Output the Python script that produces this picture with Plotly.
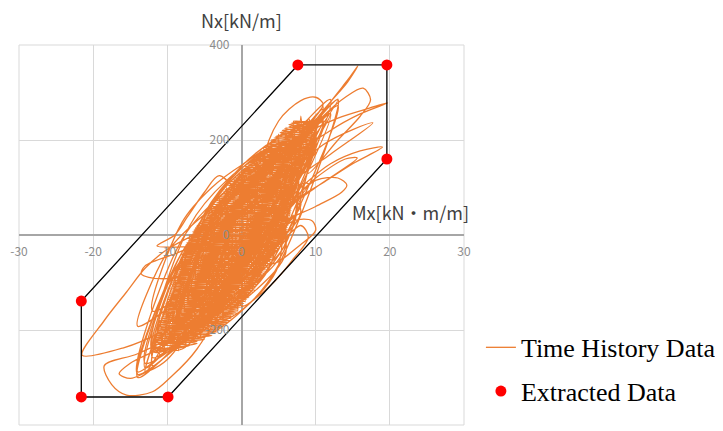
import plotly.graph_objects as go

# ---- Time history data (Mx [kN·m/m], Nx [kN/m]) ----
# outer hysteresis loops and excursions
loops_mx = [
    6, 3, 0, -3, -6, -3, 0, 3,
    11, 6, 1, -4, -9, -4, 1, 6,
    0, -3, -5, -7.3, -9, -11.4, -8, -5,
    7, 3, -1, -5, -9, -5, -1, 3,
    12, 6, 0, -6, -12, -6, 0, 6,
    6, 9, 12, 14.5, 15.7, 14.3, 11, 7, 3,
    8, 5, 2, -1, -4, -1, 2, 5,
    8, 3, -2, -7, -12, -7, -2, 3,
    -6, -11, -16, -21.5, -18.5, -15.5, -13, -10,
    5, 3, 1, -1, -3, -1, 1, 3,
    7, 3, -1, -5, -9, -5, -1, 3,
    7, 11, 14, 16.4, 17.4, 16, 13, 9,
    11, 7, 3, -1, -5, -1, 3, 7,
    7, 2, -3, -8, -13, -8, -3, 2,
    -5, -9, -13, -13.5, -11, -7,
    8, 4, 0, -4, -8, -4, 0, 4,
    13, 7, 1, -5, -11, -5, 1, 7,
    8, 12, 16, 19.7, 17, 13, 9, 5,
    5, 2, -1, -4, -7, -4, -1, 2,
    12, 7, 2, -3, -8, -3, 2, 7,
    -8, -14, -18.5, -17.5, -15.5, -12, -9.6, -6,
    10, 4, -2, -8, -14, -8, -2, 4,
    4, 2, 0, -2, -4, -2, 0, 2,
    7, 11, 15, 19, 16, 12, 8, 4,
    12, 8, 4, 0, -4, 0, 4, 8,
    4, 0, -4, -8, -12, -8, -4, 0,
    0, 4, 7, 9, 8, 4,
    6, 3, 0, -3, -6, -3, 0, 3,
    11, 5, -1, -7, -13, -7, -1, 5,
    7, 12, 17.7, 15, 11, 6,
    10, 6, 2, -2, -6, -2, 2, 6,
    3, 0, -3, -6, -9, -6, -3, 0,
    -9, -15, -16.5, -15, -13, -10,
    11, 6, 1, -4, -9, -4, 1, 6,
    9, 6, 3, 0, -3, 0, 3, 6,
    5, 10, 15.6, 14, 10, 5,
    8, 3, -2, -7, -12, -7, -2, 3,
    6, 3, 0, -3, -6, -3, 0, 3,
    4, 8, 10, 9.5, 7, 3,
    11, 6, 1, -4, -9, -4, 1, 6,
    3, 1, -1, -3, -5, -3, -1, 1,
    5, 10, 13.5, 14.2, 13, 10, 6,
    3, -1, -5, -9, -13, -9, -5, -1,
    10, 6, 2, -2, -6, -2, 2, 6,
    3, 5, 8, 10, 11, 9, 6,
    10, 5, 0, -5, -10, -5, 0, 5,
    10, 4, -2, -8, -14, -8, -2, 4,
    9, 5, 1, -3, -7, -3, 1, 5,
    13, 8, 3, -2, -7, -2, 3, 8,
    3, 0, -3, -6, -9, -6, -3, 0,
    10, 5, 0, -5, -10, -5, 0, 5,
    4, 0, -4, -8, -12, -8, -4, 0,
    2, -2, -6, -10, -14, -10, -6, -2,
    13, 9, 5, 1, -3, 1, 5, 9,
    2, -2, -6, -10, -14, -10, -6, -2,
    6, 4, 2, 0, -2, 0, 2, 4,
    2, 0, -2, -4, -6, -4, -2, 0,
    7, 4, 1, -2, -5, -2, 1, 4,
    7, 3, -1, -5, -9, -5, -1, 3,
    10, 5, 0, -5, -10, -5, 0, 5,
]
loops_nx = [
    130, 96, 60, 6, -130, -96, -60, -6,
    240, 179, 120, 29, -220, -159, -100, -9,
    80, 125, 90, 38, 0, -23, -25, -20,
    178, 164, 120, 36, -198, -184, -140, -56,
    285, 197, 125, 17, -275, -187, -115, 17,
    130, 210, 280, 330, 356, 322, 262, 180, 90,
    166, 145, 110, 49, -126, -105, -70, -9,
    180, 125, 70, -15, -240, -185, -130, -45,
    -150, -205, -238, -253, -180, -120, -70, -30,
    94, 100, 80, 36, -94, -100, -80, -36,
    165, 105, 55, -15, -195, -135, -85, -15,
    180, 250, 290, 309, 285, 250, 200, 130,
    238, 189, 140, 61, -158, -109, -60, 19,
    170, 124, 60, -36, -270, -224, -160, -64,
    -20, -40, -65, -82, -92, -80,
    170, 179, 140, 59, -170, -179, -140, -59,
    272, 183, 100, -9, -252, -163, -80, 29,
    170, 220, 255, 278, 266, 246, 215, 150,
    104, 124, 100, 40, -144, -164, -140, -80,
    255, 178, 105, 8, -205, -128, -55, 42,
    -200, -250, -275, -315, -337, -330, -300, -240,
    223, 159, 95, -9, -293, -229, -165, -61,
    85, 67, 45, 7, -95, -77, -55, -17,
    70, 110, 150, 185, 177, 150, 100, 40,
    256, 205, 150, 69, -136, -85, -30, 51,
    118, 79, 30, -49, -258, -219, -170, -91,
    -150, -105, -50, -5, 20, -30,
    150, 149, 120, 59, -130, -129, -100, -39,
    270, 131, 50, -49, -290, -151, -70, 29,
    110, 170, 236, 222, 190, 120,
    175, 185, 145, 65, -145, -155, -115, -35,
    95, 68, 35, -22, -185, -158, -125, -68,
    -220, -270, -292, -302, -290, -262,
    245, 187, 125, 27, -235, -177, -115, -17,
    186, 158, 120, 62, -86, -58, -20, 38,
    40, 100, 162, 160, 120, 50,
    195, 169, 115, 19, -245, -219, -165, -69,
    137, 80, 35, -22, -147, -90, -45, 12,
    -60, -20, 10, 30, 30, -20,
    265, 180, 115, 20, -235, -150, -85, 10,
    70, 95, 80, 35, -110, -135, -120, -75,
    20, 60, 90, 105, 120, 115, 70,
    100, 47, 0, -73, -280, -227, -180, -107,
    210, 200, 160, 80, -150, -140, -100, -20,
    150, 240, 283, 290, 275, 230, 170,
    210, 117, 50, -33, -210, -117, -50, 33,
    220, 144, 70, -36, -300, -224, -150, -44,
    170, 183, 145, 63, -170, -183, -145, -63,
    285, 203, 135, 43, -175, -93, -25, 67,
    85, 41, 5, -49, -195, -151, -115, -61,
    200, 193, 140, 43, -220, -213, -160, -63,
    180, 147, 100, 27, -160, -127, -80, -7,
    112, 76, 30, -36, -192, -156, -110, -44,
    286, 228, 170, 92, -86, -28, 30, 108,
    68, 22, -30, -106, -288, -242, -190, -114,
    130, 130, 110, 70, -50, -50, -30, 10,
    60, 51, 30, -9, -120, -111, -90, -51,
    150, 99, 60, 9, -110, -59, -20, 31,
    165, 140, 95, 20, -175, -150, -105, -30,
    235, 205, 145, 45, -205, -175, -115, -15,
]

# dense core of the response (many small back-and-forth cycles)
core1_mx = [-12, -7, -11.9, -5, -11.6, -3, -11.3, -1.8, -10.9, -1, -10.5, -0.1,
            -10.2, 0.7, -9.8, 1.5, -9.6, 2.1, -9.3, 2.7, -9, 3.3, -8.6, 3.9,
            -8.2, 4.5, -7.8, 5.1, -7.4, 5.7, -7, 6.1, -6.2, 6.3, -5.4, 6.5,
            -4.6, 6.7, -3.8, 6.9, -3, 7.1, -2.2, 7.3, -1.4, 7.5, -0.5, 7.9,
            0.5, 8.3, 1.5, 8.7, 2.5, 9.1, 3.5, 9.5, 4.6, 9.7, 5.8, 9.9, 7]
core1_nx = [-240, -232, -224, -216, -208, -200, -192, -184, -176, -168, -160, -152,
            -144, -136, -128, -120, -112, -104, -96, -88, -80, -72, -64, -56,
            -48, -40, -32, -24, -16, -8, 0, 8, 16, 24, 32, 40,
            48, 56, 64, 72, 80, 88, 96, 104, 112, 120, 128, 136,
            144, 152, 160, 168, 176, 184, 192, 200, 208, 216, 224, 232, 240]
core2_mx = [10, 6.4, 9.8, 5.2, 9.6, 4, 9.3, 3, 8.9, 2, 8.5, 1, 8.1, 0, 7.6, -0.9,
            7.4, -1.8, 7.2, -2.6, 7, -3.4, 6.8, -4.2, 6.6, -5, 6.4, -5.8, 6.2, -6.6,
            5.9, -7.2, 5.4, -7.6, 4.8, -8, 4.2, -8.4, 3.6, -8.8, 3, -9.1, 2.4, -9.4,
            1.8, -9.7, 1, -10, 0.2, -10.3, -0.7, -10.7, -1.5, -11.1, -2.5, -11.4,
            -4, -11.7, -6, -11.8]
core2_nx = [236, 228, 220, 212, 204, 196, 188, 180, 172, 164, 156, 148, 140, 132, 124, 116,
            108, 100, 92, 84, 76, 68, 60, 52, 44, 36, 28, 20, 12, 4,
            -4, -12, -20, -28, -36, -44, -52, -60, -68, -76, -84, -92, -100, -108,
            -116, -124, -132, -140, -148, -156, -164, -172, -180, -188, -196, -204,
            -212, -220, -228, -236]
core3_mx = [-10, -3.5, -9.4, -2.2, -8.8, -1, -8.3, 0.3, -8.1, 1, -7.5, 2, -7, 2.8,
            -6.3, 3.9, -5.7, 4.6, -4.7, 4.9, -3.5, 5.2, -2.3, 5.5, -1.1, 5.8, 0, 6.1,
            1.2, 6.8, 3, 7.4, 4, 8]
core3_nx = [-200, -188, -176, -164, -152, -140, -128, -116, -104, -92, -80, -68, -56, -44,
            -32, -20, -8, 4, 16, 28, 40, 52, 64, 76, 88, 100, 112, 124,
            136, 148, 160, 172, 184, 196]
core4_mx = [-11.5, -11, -10.5, -10, -9.5, -9, -8.5, -8, -7.5, -7, -6.5, -6, -5.5, -5,
            -4.5, -4, -3.5, -3, -2.5, -2, -1.5, -1, -0.5, 0, 0.5, 1, 1.5, 2,
            2.5, 3, 3.5, 4, 4.5, 5, 5.5, 6, 6.5, 7, 7.5, 8, 8.5, 9, 9.5]
core4_nx = [-245, -180, -248, -135, -248, -80, -244, -40, -236, 0, -228, 20, -220, 40,
            -212, 60, -204, 80, -192, 100, -176, 120, -160, 136, -141, 152, -118, 168,
            -93, 184, -66, 200, -40, 213, -13, 227, 40, 240, 110, 250, 160, 245, 210]
core5_mx = [-8, -11.9, -6, -11.7, -4, -11.5, -2.3, -11.1, -1.4, -10.7, -0.5, -10.4,
            0.3, -10, 1.1, -9.7, 1.8, -9.4, 2.4, -9.2, 3, -8.8, 3.6, -8.4,
            4.2, -8, 4.8, -7.6, 5.4, -7.2, 6, -6.6, 6.2, -5.8, 6.4, -5,
            6.6, -4.2, 6.8, -3.4, 7, -2.6, 7.2, -1.8, 7.4, -1, 7.7, 0,
            8.1, 1, 8.5, 2, 8.9, 3, 9.3, 4, 9.6, 5.2, 9.8, 6.4, 10]
core5_nx = [-240, -232, -224, -216, -208, -200, -192, -184, -176, -168, -160, -152,
            -144, -136, -128, -120, -112, -104, -96, -88, -80, -72, -64, -56,
            -48, -40, -32, -24, -16, -8, 0, 8, 16, 24, 32, 40,
            48, 56, 64, 72, 80, 88, 96, 104, 112, 120, 128, 136,
            144, 152, 160, 168, 176, 184, 192, 200, 208, 216, 224, 232, 240]
core6_mx = [6.8, 9.9, 5.5, 9.7, 4.4, 9.4, 3.2, 9.1, 2.3, 8.7, 1.2, 8.3, 0.3, 7.9,
            -0.7, 7.5, -1.6, 7.3, -2.4, 7.1, -3.2, 6.9, -4, 6.7, -4.8, 6.5, -5.6, 6.3,
            -6.4, 6.1, -7.1, 5.6, -7.5, 5.1, -7.9, 4.4, -8.3, 3.8, -8.7, 3.2, -9, 2.6,
            -9.3, 2, -9.6, 1.3, -9.9, 0.5, -10.2, -0.4, -10.6, -1.2, -11, -2,
            -11.3, -3.3, -11.6, -5, -11.8, -7.5]
core6_nx = [236, 228, 220, 212, 204, 196, 188, 180, 172, 164, 156, 148, 140, 132,
            124, 116, 108, 100, 92, 84, 76, 68, 60, 52, 44, 36, 28, 20,
            12, 4, -4, -12, -20, -28, -36, -44, -52, -60, -68, -76, -84, -92,
            -100, -108, -116, -124, -132, -140, -148, -156, -164, -172, -180, -188,
            -196, -204, -212, -220, -228, -236]

history_mx = loops_mx + core1_mx + core2_mx + core3_mx + core4_mx + core5_mx + core6_mx
history_nx = loops_nx + core1_nx + core2_nx + core3_nx + core4_nx + core5_nx + core6_nx

# ---- Extracted data (corner points of the envelope) ----
ext_mx = [7.6, 19.6, 19.6, -9.9, -21.6, -21.6]
ext_nx = [358, 358, 160, -341, -341, -139]

# ---- Axes ----
x_tick_vals = [-30, -20, -10, 0, 10, 20, 30]
x_tick_text = ["-30", "-20", "-10", "0", "10", "20", "30"]
y_tick_vals = [-400, -200, 0, 200, 400]
y_tick_text = ["-400", "-200", "0", "200", "400"]

tick_font = dict(family="Noto Sans CJK JP, Noto Sans, sans-serif", size=12, color="#8C8C8C")
title_font = dict(family="Noto Sans CJK JP, Noto Sans, sans-serif", size=18, color="#404040")

fig = go.Figure()
fig.add_trace(go.Scatter(
    x=history_mx, y=history_nx, mode="lines", name="Time History Data",
    line=dict(color="#ED7D31", width=1.3, shape="spline", smoothing=0.9),
    legendgroup="th", hoverinfo="skip",
))
fig.add_trace(go.Scatter(
    x=ext_mx + ext_mx[:1], y=ext_nx + ext_nx[:1], mode="lines",
    line=dict(color="#000000", width=1.3), showlegend=False, hoverinfo="skip",
))
fig.add_trace(go.Scatter(
    x=ext_mx, y=ext_nx, mode="markers", name="Extracted Data",
    marker=dict(color="#FF0000", size=11), legendgroup="ex",
))

# page body has an 8px default margin, so the figure is sized 8px smaller
fig.update_layout(
    width=715, height=423,
    margin=dict(l=11, r=259, t=37, b=6, autoexpand=False),
    paper_bgcolor="white", plot_bgcolor="white",
    xaxis=dict(
        range=[-30, 30], tickvals=x_tick_vals, ticktext=x_tick_text,
        showgrid=True, gridcolor="#D9D9D9", gridwidth=1,
        zeroline=True, zerolinecolor="#A6A6A6", zerolinewidth=2,
        anchor="free", position=0.5, showline=False, ticks="",
        tickfont=tick_font, ticklabelstandoff=8,
    ),
    yaxis=dict(
        range=[-400, 400], tickvals=y_tick_vals, ticktext=y_tick_text,
        showgrid=True, gridcolor="#D9D9D9", gridwidth=1,
        zeroline=True, zerolinecolor="#A6A6A6", zerolinewidth=2,
        anchor="free", position=0.5, showline=False, ticks="",
        tickfont=tick_font, ticklabelstandoff=12,
    ),
    showlegend=True,
    legend=dict(
        x=1.038, y=0.266, xanchor="left", yanchor="top",
        font=dict(family="Liberation Serif, Times New Roman, serif", size=26, color="#000000"),
        traceorder="grouped", tracegroupgap=7, bgcolor="rgba(0,0,0,0)",
    ),
    shapes=[dict(type="rect", xref="paper", yref="paper", x0=0, y0=0, x1=1, y1=1,
                 line=dict(color="#D9D9D9", width=1), layer="below")],
    annotations=[
        dict(text="Nx[kN/m]", xref="x", yref="paper", x=0, y=1.066,
             showarrow=False, font=title_font, xanchor="center", yanchor="middle"),
        dict(text="Mx[kN・m/m]", xref="paper", yref="paper", x=1.016, y=0.56,
             showarrow=False, font=title_font, xanchor="right", yanchor="middle"),
    ],
)

fig.write_html("out.html")
